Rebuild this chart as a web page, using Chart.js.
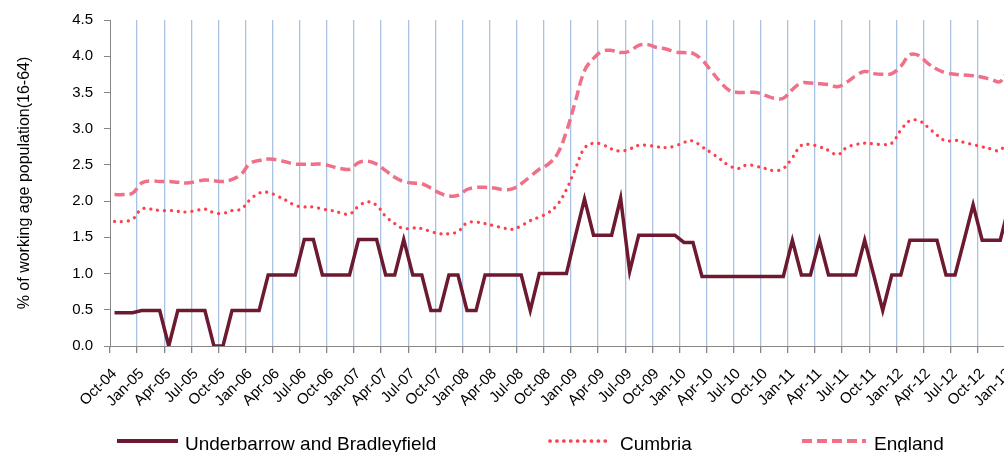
<!DOCTYPE html>
<html>
<head>
<meta charset="utf-8">
<title>Claimant rate</title>
<script src="https://cdn.jsdelivr.net/npm/chart.js@4.4.1/dist/chart.umd.min.js"></script>
<style>
  html, body { margin: 0; padding: 0; background: #fff; overflow: hidden; }
  #wrap { position: relative; width: 1034px; height: 452px; }
  #userDataNLegend { position: absolute; left: 0; top: 0; width: 1034px; height: 452px; pointer-events: none; }
  #customLegend span.txt { position: absolute; top: 433px; line-height: 19px; font: 19px "Liberation Sans", Arial, sans-serif; color: #000; white-space: nowrap; }
  #customLegend svg { position: absolute; top: 436px; }
</style>
</head>
<body>
<div id="wrap">
  <canvas id="userChart"></canvas>
  <div id="userDataNLegend"></div>
</div>
<script>
// monthly categories
const months = [
  "Oct-04", "Nov-04", "Dec-04",
  "Jan-05", "Feb-05", "Mar-05", "Apr-05", "May-05", "Jun-05", "Jul-05", "Aug-05", "Sep-05", "Oct-05", "Nov-05", "Dec-05",
  "Jan-06", "Feb-06", "Mar-06", "Apr-06", "May-06", "Jun-06", "Jul-06", "Aug-06", "Sep-06", "Oct-06", "Nov-06", "Dec-06",
  "Jan-07", "Feb-07", "Mar-07", "Apr-07", "May-07", "Jun-07", "Jul-07", "Aug-07", "Sep-07", "Oct-07", "Nov-07", "Dec-07",
  "Jan-08", "Feb-08", "Mar-08", "Apr-08", "May-08", "Jun-08", "Jul-08", "Aug-08", "Sep-08", "Oct-08", "Nov-08", "Dec-08",
  "Jan-09", "Feb-09", "Mar-09", "Apr-09", "May-09", "Jun-09", "Jul-09", "Aug-09", "Sep-09", "Oct-09", "Nov-09", "Dec-09",
  "Jan-10", "Feb-10", "Mar-10", "Apr-10", "May-10", "Jun-10", "Jul-10", "Aug-10", "Sep-10", "Oct-10", "Nov-10", "Dec-10",
  "Jan-11", "Feb-11", "Mar-11", "Apr-11", "May-11", "Jun-11", "Jul-11", "Aug-11", "Sep-11", "Oct-11", "Nov-11", "Dec-11",
  "Jan-12", "Feb-12", "Mar-12", "Apr-12", "May-12", "Jun-12", "Jul-12", "Aug-12", "Sep-12", "Oct-12", "Nov-12", "Dec-12",
  "Jan-13"
];

const seriesNames = ["Underbarrow and Bradleyfield", "Cumbria", "England"];

const underbarrow = [
  0.46, 0.46, 0.46, 0.49, 0.49, 0.49, 0, 0.49, 0.49, 0.49,
  0.49, 0, 0, 0.49, 0.49, 0.49, 0.49, 0.98, 0.98, 0.98,
  0.98, 1.47, 1.47, 0.98, 0.98, 0.98, 0.98, 1.47, 1.47, 1.47,
  0.98, 0.98, 1.47, 0.98, 0.98, 0.49, 0.49, 0.98, 0.98, 0.49,
  0.49, 0.98, 0.98, 0.98, 0.98, 0.98, 0.49, 1.0, 1.0, 1.0,
  1.0, 1.52, 2.03, 1.53, 1.53, 1.53, 2.04, 1.03, 1.53, 1.53,
  1.53, 1.53, 1.53, 1.43, 1.43, 0.96, 0.96, 0.96, 0.96, 0.96,
  0.96, 0.96, 0.96, 0.96, 0.96, 1.46, 0.98, 0.98, 1.46, 0.98,
  0.98, 0.98, 0.98, 1.46, 0.98, 0.49, 0.98, 0.98, 1.46, 1.46,
  1.46, 1.46, 0.98, 0.98, 1.46, 1.95, 1.46, 1.46, 1.46, 1.95
];

const cumbria = [
  1.72, 1.72, 1.75, 1.89, 1.89, 1.87, 1.87, 1.86, 1.85, 1.87,
  1.89, 1.84, 1.83, 1.87, 1.89, 2.02, 2.11, 2.12, 2.07, 2.01,
  1.94, 1.92, 1.92, 1.89, 1.87, 1.84, 1.82, 1.93, 1.99, 1.94,
  1.79, 1.69, 1.62, 1.63, 1.62, 1.58, 1.55, 1.55, 1.58, 1.70,
  1.71, 1.69, 1.66, 1.63, 1.61, 1.66, 1.73, 1.78, 1.84, 1.95,
  2.16, 2.45, 2.73, 2.80, 2.78, 2.72, 2.69, 2.72, 2.77, 2.77,
  2.75, 2.74, 2.76, 2.81, 2.83, 2.75, 2.67, 2.58, 2.49, 2.45,
  2.50, 2.48, 2.45, 2.42, 2.45, 2.60, 2.77, 2.78, 2.75, 2.70,
  2.64, 2.74, 2.78, 2.80, 2.79, 2.78, 2.80, 2.98, 3.11, 3.11,
  3.02, 2.91, 2.83, 2.84, 2.81, 2.78, 2.75, 2.72, 2.70, 2.90
];

const england = [
  2.09, 2.09, 2.11, 2.25, 2.28, 2.27, 2.27, 2.26, 2.25, 2.27,
  2.29, 2.28, 2.27, 2.30, 2.37, 2.52, 2.56, 2.58, 2.57, 2.54,
  2.51, 2.51, 2.51, 2.51, 2.48, 2.45, 2.44, 2.53, 2.55, 2.51,
  2.42, 2.33, 2.27, 2.25, 2.24, 2.18, 2.11, 2.07, 2.08, 2.16,
  2.19, 2.19, 2.18, 2.16, 2.17, 2.24, 2.34, 2.44, 2.51, 2.65,
  2.96, 3.38, 3.80, 3.97, 4.07, 4.08, 4.05, 4.07, 4.15, 4.16,
  4.12, 4.10, 4.06, 4.05, 4.04, 3.95, 3.80, 3.65, 3.53, 3.50,
  3.50, 3.50, 3.46, 3.42, 3.42, 3.54, 3.63, 3.63, 3.62, 3.61,
  3.58, 3.64, 3.73, 3.79, 3.76, 3.75, 3.76, 3.86, 4.02, 4.01,
  3.90, 3.82, 3.77, 3.75, 3.74, 3.73, 3.71, 3.68, 3.65, 3.85
];

const yTicks = [0, 0.5, 1, 1.5, 2, 2.5, 3, 3.5, 4, 4.5];

let dataChart;

const FONT = '"Liberation Sans", Arial, sans-serif';
Chart.defaults.font.family = FONT;
Chart.defaults.color = "#000";

// legend drawn as html, line samples take the dataset styles
function generateLegend(locationID, chart) {
  const location = document.getElementById(locationID);
  const div = document.createElement("DIV");
  div.setAttribute("id", "customLegend");

  // sample start, sample end, text start
  const spots = [[117, 178, 185], [550, 606, 620], [802, 866, 874]];

  chart.data.datasets.forEach((ds, i) => {
    const [x0, x1, tx] = spots[i];
    const ns = "http://www.w3.org/2000/svg";
    const svg = document.createElementNS(ns, "svg");
    svg.setAttribute("width", x1 - x0 + 4);
    svg.setAttribute("height", 10);
    svg.style.left = (x0 - 2) + "px";
    const line = document.createElementNS(ns, "line");
    line.setAttribute("x1", 2);
    line.setAttribute("x2", x1 - x0 + 2);
    line.setAttribute("y1", 5);
    line.setAttribute("y2", 5);
    line.setAttribute("stroke", ds.borderColor);
    line.setAttribute("stroke-width", ds.borderWidth + 0.5);
    line.setAttribute("stroke-linecap", ds.borderCapStyle || "butt");
    if (ds.borderDash) line.setAttribute("stroke-dasharray", ds.borderDash.join(" "));
    svg.appendChild(line);

    const p = document.createElement("SPAN");
    p.className = "txt";
    p.style.left = tx + "px";
    p.appendChild(document.createTextNode(ds.label));

    div.appendChild(svg);
    div.appendChild(p);
  });

  location.appendChild(div);
}

function getGraphData() {
  const ctx = document.getElementById("userChart");
  const blue = "#a9c2e2";
  const grey = "#868686";

  const datasets = [
    {
      label: seriesNames[0],
      data: underbarrow,
      borderColor: "#6d1a30",
      borderWidth: 3.5,
      tension: 0,
      pointRadius: 0,
      order: 0
    },
    {
      label: seriesNames[1],
      data: cumbria,
      borderColor: "#ff3f4e",
      borderWidth: 3.2,
      borderDash: [0.1, 6.8],
      borderCapStyle: "round",
      tension: 0.4,
      pointRadius: 0,
      order: 1
    },
    {
      label: seriesNames[2],
      data: england,
      borderColor: "#ef7088",
      borderWidth: 3.5,
      borderDash: [10, 5],
      tension: 0.4,
      pointRadius: 0,
      order: 2
    }
  ];

  dataChart = new Chart(ctx, {
    type: "line",
    data: { labels: months, datasets: datasets },
    options: {
      responsive: true,
      maintainAspectRatio: false,
      animation: false,
      layout: { padding: { top: 18, right: 0, bottom: 0, left: 0 } },
      scales: {
        x: {
          offset: true,
          grid: {
            offset: true,
            drawOnChartArea: true,
            tickLength: 7,
            lineWidth: 1.3,
            color: (c) => (c.index !== undefined && c.index > 0 && c.index % 3 === 0 ? blue : "rgba(0,0,0,0)"),
            tickColor: (c) => (c.index !== undefined && c.index % 3 === 0 ? grey : "rgba(0,0,0,0)")
          },
          border: { color: grey, width: 1 },
          ticks: {
            autoSkip: false,
            maxRotation: 45,
            minRotation: 45,
            padding: 12,
            font: { size: 15 },
            callback: function (value, index) {
              return index % 3 === 0 ? this.getLabelForValue(value) : "";
            }
          },
          afterFit: (scale) => { scale.height = 106; }
        },
        y: {
          min: 0,
          max: 4.5,
          afterBuildTicks: (scale) => { scale.ticks = yTicks.map((v) => ({ value: v })); },
          grid: { drawOnChartArea: false, drawTicks: true, tickLength: 6, color: grey },
          border: { color: grey, width: 1 },
          ticks: {
            padding: 11,
            font: { size: 15 },
            callback: (v) => v.toFixed(1)
          },
          title: {
            display: true,
            text: "% of working age population(16-64)",
            font: { size: 16 },
            padding: { top: 15, bottom: 0 }
          },
          afterFit: (scale) => { scale.width = 110; }
        }
      },
      plugins: {
        legend: { display: false },
        tooltip: { enabled: false }
      }
    }
  });

  generateLegend("userDataNLegend", dataChart);
}

getGraphData();
</script>
</body>
</html>
